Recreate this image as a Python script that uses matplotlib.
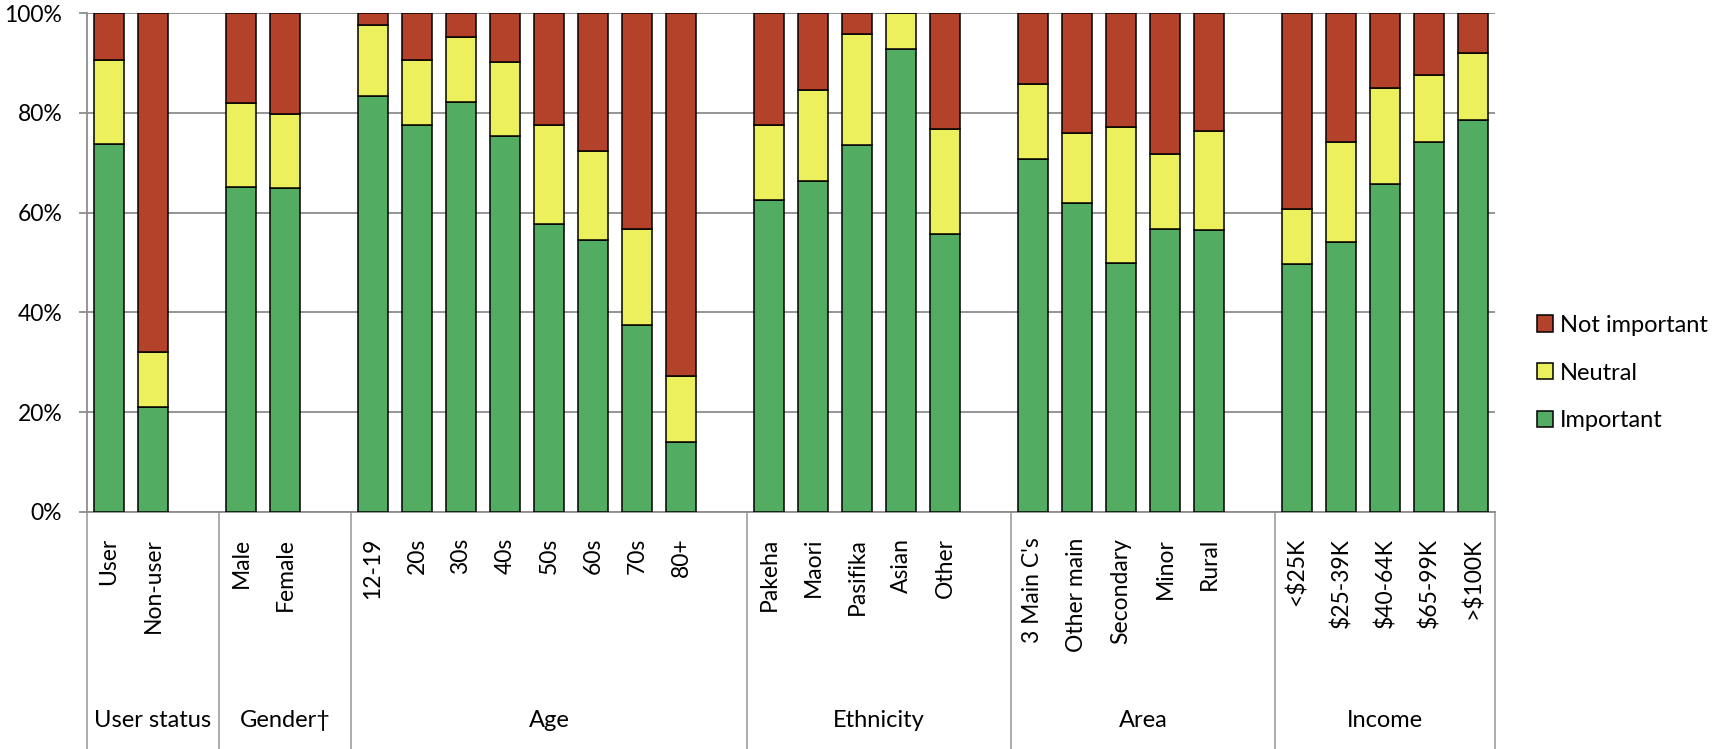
import matplotlib
matplotlib.use("Agg")
import matplotlib.pyplot as plt
import matplotlib.transforms as mtransforms
from matplotlib.patches import Patch
from matplotlib.ticker import FixedLocator, FuncFormatter

plt.rcParams['font.family'] = ['Lato', 'DejaVu Sans']

# Groups of the multi-level category axis
group_names = ["User status", "Gender\u2020", "Age", "Ethnicity", "Area", "Income"]
group_items = [
    ["User", "Non-user"],
    ["Male", "Female"],
    ["12-19", "20s", "30s", "40s", "50s", "60s", "70s", "80+"],
    ["Pakeha", "Maori", "Pasifika", "Asian", "Other"],
    ["3 Main C's", "Other main", "Secondary", "Minor", "Rural"],
    ["<$25K", "$25-39K", "$40-64K", "$65-99K", ">$100K"],
]

# Share of respondents (%) per bar, in the order of group_items
important = [73.8, 21.0,
             65.2, 64.9,
             83.3, 77.6, 82.1, 75.4, 57.8, 54.5, 37.4, 14.0,
             62.5, 66.4, 73.5, 92.8, 55.7,
             70.8, 61.9, 49.8, 56.8, 56.6,
             49.7, 54.2, 65.7, 74.1, 78.6]
neutral = [16.7, 11.0,
           16.8, 14.9,
           14.3, 13.0, 13.0, 14.8, 19.7, 17.9, 19.4, 13.3,
           15.0, 18.1, 22.3, 7.2, 21.0,
           14.9, 14.0, 27.3, 15.0, 19.7,
           11.1, 20.0, 19.3, 13.5, 13.4]
not_important = [9.5, 68.0,
                 18.0, 20.2,
                 2.4, 9.4, 4.9, 9.8, 22.5, 27.6, 43.2, 72.7,
                 22.5, 15.5, 4.2, 0.0, 23.3,
                 14.3, 24.1, 22.9, 28.2, 23.7,
                 39.2, 25.8, 15.0, 12.4, 8.0]

series_labels = ["Important", "Neutral", "Not important"]
series_colors = ["#52AC62", "#EBF05C", "#B4422A"]

# Slot layout: each group is followed by one empty slot (except the last)
positions, labels, boundaries, centers = [], [], [-0.5], []
slot = 0
for gi, items in enumerate(group_items):
    start = slot
    for it in items:
        positions.append(slot)
        labels.append(it)
        slot += 1
    if gi < len(group_items) - 1:
        slot += 1
    boundaries.append(slot - 0.5)
    centers.append((start - 0.5 + slot - 0.5) / 2)
n_slots = slot

fig = plt.figure(figsize=(17.15, 7.49), dpi=100)
ax = fig.add_axes([87 / 1715, 1 - 512 / 749, (1495 - 87) / 1715, (512 - 13) / 749])

grid_col = "#8C8C8C"
sep_col = "#A6A6A6"
bar_w = 0.68
edge = dict(edgecolor="black", linewidth=1.1)

bottom = [0.0] * len(positions)
handles = []
for vals, lab, col in zip([important, neutral, not_important], series_labels, series_colors):
    fr = [v / 100 for v in vals]
    ax.bar(positions, fr, bar_w, bottom=bottom, color=col, label=lab, zorder=3, **edge)
    bottom = [b + f for b, f in zip(bottom, fr)]
    handles.append(Patch(facecolor=col, edgecolor="black", linewidth=1.1, label=lab))

ax.set_xlim(-0.5, n_slots - 0.5)
ax.set_ylim(0, 1)
ax.yaxis.set_major_locator(FixedLocator([0, 0.2, 0.4, 0.6, 0.8, 1.0]))
ax.yaxis.set_major_formatter(FuncFormatter(lambda v, p: f"{v * 100:.0f}%"))
ax.yaxis.grid(True, color=grid_col, linewidth=1.3, zorder=0)
ax.set_axisbelow(True)

for s in ["top", "right"]:
    ax.spines[s].set_visible(False)
for s in ["left", "bottom"]:
    ax.spines[s].set_color(grid_col)
    ax.spines[s].set_linewidth(1.3)

ax.tick_params(axis="y", direction="out", length=5.8, width=1.3, color=grid_col,
               labelsize=16.5, pad=12, labelcolor="black")
ax.set_xticks(positions)
ax.set_xticklabels(labels, rotation=90, fontsize=16.5, va="top", ha="center")
ax.tick_params(axis="x", length=0, pad=18.5)

# Group separators and group titles below the axis
trans = mtransforms.blended_transform_factory(ax.transData, ax.transAxes)
for b in boundaries:
    ax.plot([b, b], [0, -0.48], color=sep_col, linewidth=1.3, transform=trans,
            clip_on=False, zorder=1)
for c, name in zip(centers, group_names):
    ax.text(c, -0.417, name, transform=trans, ha="center", va="center", fontsize=17)

fig.legend(handles=handles[::-1], loc="center left",
           bbox_to_anchor=(1537 / 1715, 1 - 373 / 749), frameon=False,
           fontsize=17, handlelength=0.68, handleheight=0.68, handletextpad=0.3,
           labelspacing=1.13, borderpad=0, borderaxespad=0)

fig.savefig("out.png", dpi=100)
